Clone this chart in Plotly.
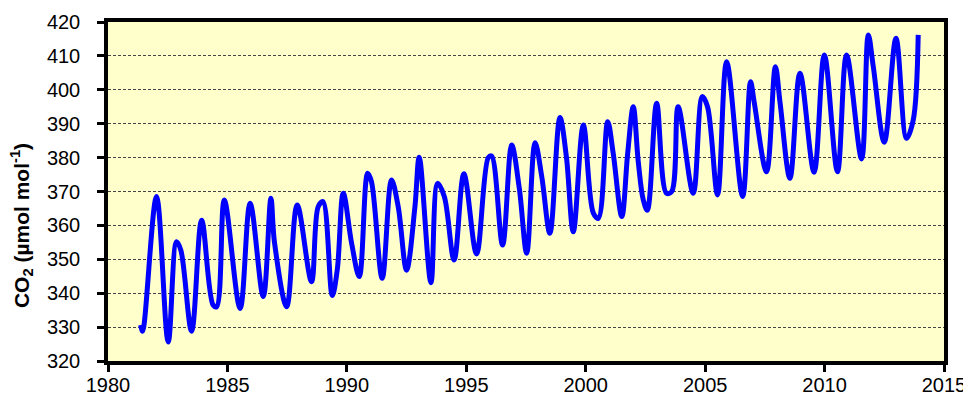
import plotly.graph_objects as go

# CO2 record (year, µmol/mol)
years = [1981.37, 1981.45, 1982.03, 1982.52, 1982.87, 1983.05, 1983.50, 1983.92,
         1984.40, 1984.55, 1984.87, 1985.53, 1985.95, 1986.50, 1986.82, 1986.97,
         1987.48, 1987.92, 1988.52, 1988.80, 1989.00, 1989.39, 1989.60, 1989.85,
         1990.20, 1990.52, 1990.87, 1991.03, 1991.48, 1991.87, 1992.15, 1992.50,
         1992.85, 1993.03, 1993.52, 1993.80, 1994.08, 1994.49, 1994.90, 1995.43,
         1995.92, 1996.06, 1996.52, 1996.90, 1997.22, 1997.53, 1997.88, 1998.16,
         1998.50, 1998.92, 1999.19, 1999.48, 1999.90, 2000.32, 2000.53, 2000.92,
         2001.15, 2001.51, 2001.76, 2001.99, 2002.20, 2002.41, 2002.58, 2002.97,
         2003.38, 2003.60, 2003.87, 2004.50, 2004.88, 2005.10, 2005.52, 2005.90,
         2006.57, 2006.90, 2007.05, 2007.57, 2007.94, 2008.14, 2008.55, 2008.97,
         2009.56, 2009.99, 2010.54, 2010.92, 2011.55, 2011.83, 2012.04, 2012.50,
         2012.99, 2013.43, 2013.71, 2013.92]
co2 = [330.6, 328.8, 368.5, 325.6, 355.2, 352.7, 328.8, 361.5,
       336.5, 336.0, 367.5, 335.5, 366.5, 339.0, 368.0, 355.0,
       336.0, 366.0, 343.4, 365.5, 367.0, 339.3, 347.0, 369.5,
       354.7, 344.9, 375.4, 372.9, 344.4, 373.4, 365.5, 346.8,
       365.5, 380.1, 343.1, 372.4, 368.5, 349.8, 375.2, 351.6,
       380.0, 380.5, 354.2, 383.7, 370.9, 351.8, 384.4, 374.4,
       357.7, 391.8, 380.3, 358.1, 389.6, 363.6, 362.1, 390.6,
       381.3, 362.6, 381.5, 395.0, 378.8, 367.5, 364.5, 396.0,
       369.5, 370.0, 395.0, 369.5, 398.0, 395.0, 369.0, 408.3,
       368.5, 402.4, 396.5, 375.8, 406.8, 396.0, 373.9, 404.9,
       375.7, 410.3, 375.8, 410.3, 379.6, 416.2, 406.8, 384.5,
       415.2, 385.7, 391.0, 416.2]

x_ticks = [1980, 1985, 1990, 1995, 2000, 2005, 2010, 2015]
y_ticks = [320, 330, 340, 350, 360, 370, 380, 390, 400, 410, 420]
y_title = "<b>CO<sub>2</sub> (µmol mol<sup>-1</sup>)</b>"

fig = go.Figure()
fig.add_trace(go.Scatter(
    x=years, y=co2, mode="lines",
    line=dict(color="#0000FF", width=5, shape="spline", smoothing=1.0),
    showlegend=False, hoverinfo="skip"))

# page body has an 8px margin, so the figure is sized/offset accordingly
fig.update_layout(
    width=963, height=390,
    margin=dict(l=100, r=27, t=14, b=37),
    paper_bgcolor="white", plot_bgcolor="#FFFFCC",
    font=dict(family="Liberation Sans, Arial, sans-serif", color="black"),
)
fig.add_annotation(
    text=y_title, textangle=-90, showarrow=False,
    xref="paper", yref="paper", x=0, y=0.398, xanchor="center", yanchor="middle",
    xshift=-87, font=dict(size=21))
fig.update_xaxes(
    range=[1980, 2015], tickvals=x_ticks, ticktext=[str(v) for v in x_ticks],
    showgrid=False, zeroline=False, automargin=False,
    showline=True, linecolor="black", linewidth=3.5, mirror=True,
    ticks="outside", ticklen=7, tickwidth=3, tickcolor="black",
    tickfont=dict(size=20), ticklabelstandoff=-4)
fig.update_yaxes(
    range=[320, 420], tickvals=y_ticks, ticktext=[str(v) for v in y_ticks],
    showgrid=True, gridcolor="#444444", gridwidth=1, griddash="3px,2px",
    zeroline=False, automargin=False,
    showline=True, linecolor="black", linewidth=3.5, mirror=True,
    ticks="outside", ticklen=7, tickwidth=3, tickcolor="black",
    tickfont=dict(size=20), ticklabelstandoff=13)

fig.write_html("out.html")
